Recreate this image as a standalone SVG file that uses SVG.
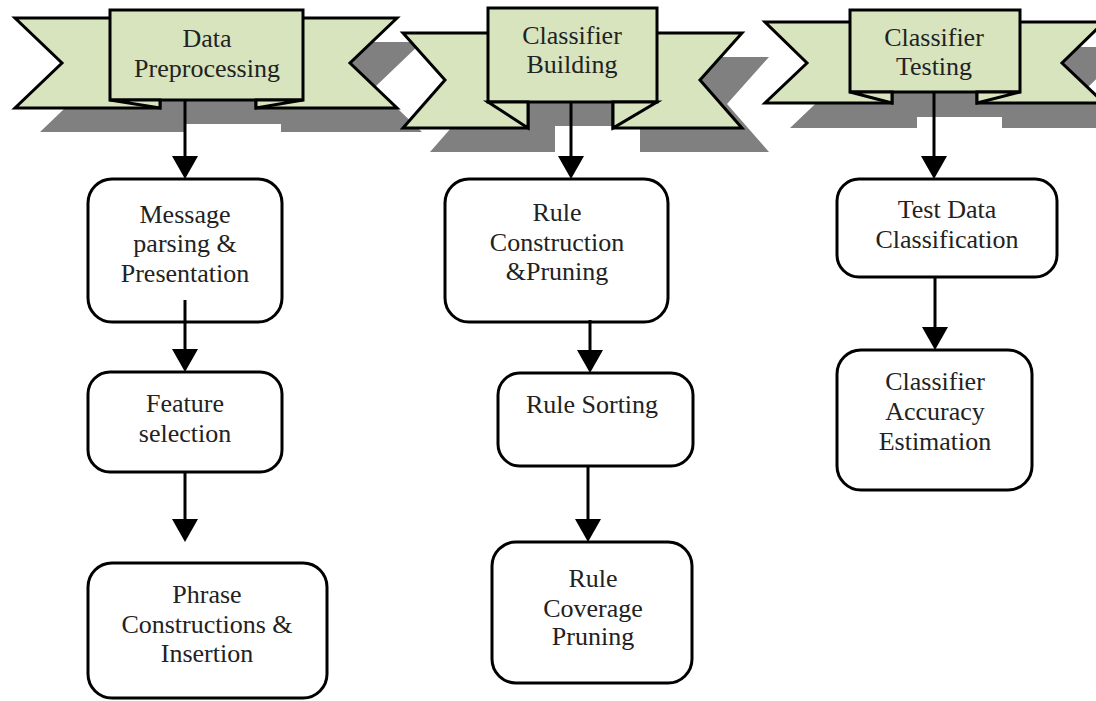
<svg xmlns="http://www.w3.org/2000/svg" width="1096" height="701" viewBox="0 0 1096 701">
<style>
.shadow{fill:#808080;stroke:none}
.rib{fill:#d7e4bd;stroke:#000;stroke-width:3;stroke-linejoin:miter}
.box{fill:#fff;stroke:#000;stroke-width:3}
.t{font-family:"Liberation Serif","Times New Roman",serif;font-size:26px;fill:#222;text-anchor:middle}
.c{stroke:#000;stroke-width:3;fill:none}
</style>
<defs>
<marker id="ah" viewBox="0 0 23 26" refX="18" refY="13" markerWidth="23" markerHeight="26" markerUnits="userSpaceOnUse" orient="auto">
<path d="M0,0 L23,13 L0,26 Z" fill="#000"/>
</marker>
</defs>
<rect width="1096" height="701" fill="#fff"/>
<g id="shadows">
<polygon class="shadow" transform="translate(25,24)" points="15,18 110,18 110,10 303,10 303,18 397,18 350,63 397,108 256,108 256,100 160,100 160,108 15,108 62,63"/>
<polygon class="shadow" transform="translate(27,24)" points="403,33 488,33 488,8 657,8 657,33 742,33 700,80 742,128 613,128 613,102 528,102 528,128 403,128 445,80"/>
<polygon class="shadow" transform="translate(25,25)" points="765,22 850,22 850,10 1020,10 1020,22 1104,22 1062,63 1104,103 977,103 977,92 892,92 892,103 765,103 807,63"/>
</g>
<g id="banner1">
<polygon class="rib" points="15,18 120,18 120,100 160,100 160,108 15,108 62,63"/>
<polygon class="rib" points="397,18 290,18 290,100 256,100 256,108 397,108 350,63"/>
<rect class="rib" x="110" y="10" width="193" height="90"/>
<polygon class="rib" points="110,100 160,100 160,108"/>
<polygon class="rib" points="303,100 256,100 256,108"/>
<text class="t" x="207" y="47">Data</text>
<text class="t" x="207" y="77">Preprocessing</text>
</g>
<g id="banner2">
<polygon class="rib" points="403,33 500,33 500,102 528,102 528,128 403,128 445,80"/>
<polygon class="rib" points="742,33 640,33 640,102 613,102 613,128 742,128 700,80"/>
<rect class="rib" x="488" y="8" width="169" height="94"/>
<polygon class="rib" points="488,102 528,102 528,128"/>
<polygon class="rib" points="657,102 613,102 613,128"/>
<text class="t" x="572" y="44">Classifier</text>
<text class="t" x="572" y="73">Building</text>
</g>
<g id="banner3">
<polygon class="rib" points="765,22 860,22 860,92 892,92 892,103 765,103 807,63"/>
<polygon class="rib" points="1104,22 1000,22 1000,92 977,92 977,103 1104,103 1062,63"/>
<rect class="rib" x="850" y="10" width="170" height="82"/>
<polygon class="rib" points="850,92 892,92 892,103"/>
<polygon class="rib" points="1020,92 977,92 977,103"/>
<text class="t" x="934" y="46">Classifier</text>
<text class="t" x="934" y="75">Testing</text>
</g>
<g id="msg-parsing">
<rect class="box" x="88" y="179" width="194" height="143" rx="24"/>
<text class="t" x="185" y="223">Message</text>
<text class="t" x="185" y="252">parsing &amp;</text>
<text class="t" x="185" y="282">Presentation</text>
</g>
<g id="feature-selection">
<rect class="box" x="88" y="372" width="194" height="100" rx="22"/>
<text class="t" x="185" y="412">Feature</text>
<text class="t" x="185" y="442">selection</text>
</g>
<g id="phrase-construction">
<rect class="box" x="88" y="563" width="239" height="135" rx="24"/>
<text class="t" x="207" y="603">Phrase</text>
<text class="t" x="207" y="633">Constructions &amp;</text>
<text class="t" x="207" y="662">Insertion</text>
</g>
<g id="rule-construction">
<rect class="box" x="445" y="179" width="223" height="143" rx="24"/>
<text class="t" x="557" y="221">Rule</text>
<text class="t" x="557" y="251">Construction</text>
<text class="t" x="557" y="280">&amp;Pruning</text>
</g>
<g id="rule-sorting">
<rect class="box" x="498" y="373" width="195" height="93" rx="22"/>
<text class="t" x="592" y="413">Rule Sorting</text>
</g>
<g id="rule-coverage">
<rect class="box" x="492" y="542" width="200" height="141" rx="24"/>
<text class="t" x="593" y="587">Rule</text>
<text class="t" x="593" y="617">Coverage</text>
<text class="t" x="593" y="645">Pruning</text>
</g>
<g id="test-data">
<rect class="box" x="837" y="179" width="220" height="98" rx="22"/>
<text class="t" x="947" y="218">Test Data</text>
<text class="t" x="947" y="248">Classification</text>
</g>
<g id="accuracy">
<rect class="box" x="837" y="350" width="195" height="140" rx="24"/>
<text class="t" x="935" y="390">Classifier</text>
<text class="t" x="935" y="420">Accuracy</text>
<text class="t" x="935" y="450">Estimation</text>
</g>
<g id="connectors">
<line class="c" x1="185" y1="100" x2="185" y2="174" marker-end="url(#ah)"/>
<line class="c" x1="185" y1="300" x2="185" y2="367" marker-end="url(#ah)"/>
<line class="c" x1="185" y1="472" x2="185" y2="537" marker-end="url(#ah)"/>
<line class="c" x1="571" y1="102" x2="571" y2="174" marker-end="url(#ah)"/>
<line class="c" x1="590" y1="320" x2="590" y2="368" marker-end="url(#ah)"/>
<line class="c" x1="588" y1="466" x2="588" y2="537" marker-end="url(#ah)"/>
<line class="c" x1="934" y1="92" x2="934" y2="174" marker-end="url(#ah)"/>
<line class="c" x1="935" y1="277" x2="935" y2="345" marker-end="url(#ah)"/>
</g>
</svg>
